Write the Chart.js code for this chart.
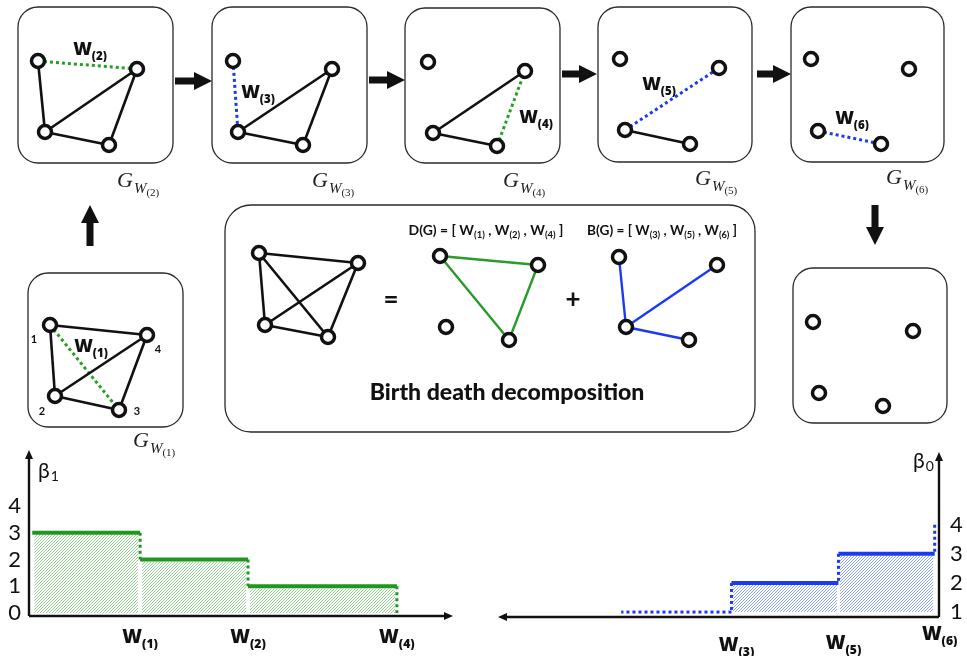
<!DOCTYPE html>
<html>
<head>
<meta charset="utf-8">
<script src="https://cdn.jsdelivr.net/npm/chart.js@4.4.1/dist/chart.umd.min.js"></script>
<style>
html, body { margin: 0; padding: 0; background: #fff; overflow: hidden; }
#wrap { position: relative; width: 967px; height: 656px; }
#wrap canvas { position: absolute; }
</style>
</head>
<body>
<div id="wrap">
  <canvas id="diagram" width="967" height="656" style="left:0;top:0"></canvas>
  <canvas id="beta1" width="470" height="210" style="left:0;top:446px"></canvas>
  <canvas id="beta0" width="477" height="210" style="left:490px;top:446px"></canvas>
</div>
<script>
// graph snapshots: node positions (node order: 1 top-left, 2 bottom-left, 3 bottom-right, 4 top-right)
// edges: [from, to, kind]  k = black, gd/bd = dotted green/blue, g/b = solid green/blue
const nodesG1 = [[50,325],[55,396],[119,410],[147,335]];
const edgesG1 = [[0,3,'k'],[0,1,'k'],[1,3,'k'],[1,2,'k'],[2,3,'k'],[0,2,'gd']];
const nodesG2 = [[38,61],[45,132],[109,145],[137,69]];
const edgesG2 = [[0,3,'gd'],[0,1,'k'],[1,3,'k'],[1,2,'k'],[2,3,'k']];
const nodesG3 = [[233,61],[238,132],[303,145],[332,69]];
const edgesG3 = [[0,1,'bd'],[1,3,'k'],[1,2,'k'],[2,3,'k']];
const nodesG4 = [[428,62],[433,133],[497,146],[525,71]];
const edgesG4 = [[1,3,'k'],[1,2,'k'],[2,3,'gd']];
const nodesG5 = [[620,59],[625,130],[690,144],[719,68]];
const edgesG5 = [[1,3,'bd'],[1,2,'k']];
const nodesG6 = [[811,59],[818,131],[881,144],[909,69]];
const edgesG6 = [[1,2,'bd']];
const nodesEmpty = [[813,322],[819,393],[883,406],[913,331]];
const nodesFull = [[259,253],[265,325],[328,337],[358,263]];
const edgesFull = [[0,1,'k'],[0,2,'k'],[0,3,'k'],[1,2,'k'],[1,3,'k'],[2,3,'k']];
const nodesDeath = [[440,256],[446,327],[509,340],[538,265]];
const edgesDeath = [[0,3,'g'],[0,2,'g'],[2,3,'g']];
const nodesBirth = [[619,257],[626,327],[689,340],[717,265]];
const edgesBirth = [[0,1,'b'],[1,3,'b'],[1,2,'b']];

const edgeSubs = ['(1)','(2)','(3)','(4)','(5)','(6)'];
const deathList = ['(1)','(2)','(4)'];
const birthList = ['(3)','(5)','(6)'];

// step plots
const beta1Times = [0, 1, 2, 3.38];          // start, W(1), W(2), W(4)
const beta1Levels = [3, 2, 1];               // β1 on each interval
const beta1Ticks = [0, 1, 2, 3, 4];
const beta1Names = ['(1)', '(2)', '(4)'];
const beta0Times = [0.04, 0.93, 1.92, 2.94]; // W(6), W(5), W(3), end (axis runs leftwards)
const beta0Levels = [3, 2, 1];               // β0 on each interval
const beta0Top = 4;
const beta0Ticks = [1, 2, 3, 4];
const beta0Names = ['(6)', '(5)', '(3)'];

// layout
const panelBoxes = [[18,7,173,163,20],[212,7,367,163,20],[405,8,560,163,20],[598,7,752,162,20],
  [791,7,944,162,20],[28,273,183,427,20],[225,205,755,432,26],[793,268,947,423,20]];
const flowArrows = [[175,81,212,81],[369,80,405,80],[562,74,597,74],[757,74,791,74],[90,246,90,205],[875,205,875,245]];
const edgeLabelPos = [[91,352],[90,55],[258,98],[536,123],[659,90],[852,124]];
const gLabelPos = [[133,447],[117,187],[312,187],[503,187],[695,185],[886,184]];
const nodeNumbers = [['1',34,343],['2',42,415],['3',137,415],['4',158,353]];

const GREEN = '#1f961f', BLUE = '#1b3af2', INK = '#111';
const W_FONT = '"Open Sans"';
const edgeStyle = {
  k:  {color: INK, width: 2.6, dash: []},
  gd: {color: '#22a022', width: 3, dash: [3, 3]},
  bd: {color: BLUE, width: 3, dash: [3, 3]},
  g:  {color: '#2a9a2a', width: 2.4, dash: []},
  b:  {color: BLUE, width: 2.4, dash: []}
};

function richWidth(ctx, parts, size, subSize, fam, wt) {
  let w = 0;
  parts.forEach(([t, sub]) => { ctx.font = `${wt} ${sub ? subSize : size}px ${fam}`; w += ctx.measureText(t).width; });
  return w;
}
function drawRich(ctx, parts, cx, base, size, subSize, subDy, fam = W_FONT, wt = 800) {
  let x = cx - richWidth(ctx, parts, size, subSize, fam, wt) / 2;
  ctx.textAlign = 'left';
  ctx.textBaseline = 'alphabetic';
  parts.forEach(([t, sub]) => {
    ctx.font = `${wt} ${sub ? subSize : size}px ${fam}`;
    ctx.fillText(t, x, base + (sub ? subDy : 0));
    x += ctx.measureText(t).width;
  });
}
function drawFit(ctx, parts, cx, base, width, ratio, subDy, fam, wt) {
  const s = 20 * width / richWidth(ctx, parts, 20, 20 * ratio, fam, wt);
  drawRich(ctx, parts, cx, base, s, s * ratio, subDy, fam, wt);
}
function drawW(ctx, sub, cx, base, size = 18) {
  drawRich(ctx, [['W', 0], [sub, 1]], cx, base, size, size * 0.64, 5);
}
function drawG(ctx, sub, x, base) {
  ctx.textAlign = 'left';
  ctx.textBaseline = 'alphabetic';
  ctx.fillStyle = '#222';
  ctx.font = 'italic 22px "Liberation Serif"';
  ctx.fillText('G', x, base);
  x += ctx.measureText('G').width + 1;
  ctx.font = 'italic 15px "Liberation Serif"';
  ctx.fillText('W', x, base + 6);
  x += ctx.measureText('W').width;
  ctx.font = '11px "Liberation Serif"';
  ctx.fillText(sub, x, base + 9);
}
function roundBox(ctx, x0, y0, x1, y1, r) {
  ctx.beginPath();
  ctx.moveTo(x0 + r, y0);
  ctx.arcTo(x1, y0, x1, y1, r);
  ctx.arcTo(x1, y1, x0, y1, r);
  ctx.arcTo(x0, y1, x0, y0, r);
  ctx.arcTo(x0, y0, x1, y0, r);
  ctx.closePath();
  ctx.stroke();
}
function blockArrow(ctx, x0, y0, x1, y1) {
  const len = Math.hypot(x1 - x0, y1 - y0), head = 18;
  ctx.save();
  ctx.translate(x0, y0);
  ctx.rotate(Math.atan2(y1 - y0, x1 - x0));
  ctx.beginPath();
  ctx.moveTo(0, -3.5); ctx.lineTo(len - head, -3.5); ctx.lineTo(len - head, -9);
  ctx.lineTo(len, 0);
  ctx.lineTo(len - head, 9); ctx.lineTo(len - head, 3.5); ctx.lineTo(0, 3.5);
  ctx.closePath();
  ctx.fill();
  ctx.restore();
}

// ---------- diagram ----------
const graphs = [[nodesG1, edgesG1], [nodesG2, edgesG2], [nodesG3, edgesG3], [nodesG4, edgesG4],
  [nodesG5, edgesG5], [nodesG6, edgesG6], [nodesEmpty, []],
  [nodesFull, edgesFull], [nodesDeath, edgesDeath], [nodesBirth, edgesBirth]];

const diagramSets = [];
graphs.forEach(([nodes, edges]) => {
  edges.forEach(([a, b, kind]) => {
    const s = edgeStyle[kind];
    diagramSets.push({
      data: [{x: nodes[a][0], y: nodes[a][1]}, {x: nodes[b][0], y: nodes[b][1]}],
      showLine: true, borderColor: s.color, borderWidth: s.width, borderDash: s.dash,
      pointRadius: 0, order: 1
    });
  });
});
diagramSets.push({
  data: graphs.flatMap(g => g[0].map(p => ({x: p[0], y: p[1]}))),
  pointRadius: 6.5, pointBorderWidth: 3.5, pointBorderColor: INK, pointBackgroundColor: '#fff', order: 0
});

const diagramPlugin = {
  id: 'diagramDecor',
  beforeDatasetsDraw(chart) {
    const {ctx, scales: {x, y}} = chart;
    ctx.save();
    ctx.strokeStyle = '#2a2a2a';
    ctx.lineWidth = 1.3;
    panelBoxes.forEach(([x0, y0, x1, y1, r]) => {
      roundBox(ctx, x.getPixelForValue(x0), y.getPixelForValue(y0), x.getPixelForValue(x1), y.getPixelForValue(y1), r);
    });
    ctx.restore();
  },
  afterDatasetsDraw(chart) {
    const {ctx, scales: {x, y}} = chart;
    ctx.save();
    ctx.fillStyle = INK;
    flowArrows.forEach(([x0, y0, x1, y1]) => {
      blockArrow(ctx, x.getPixelForValue(x0), y.getPixelForValue(y0), x.getPixelForValue(x1), y.getPixelForValue(y1));
    });
    edgeSubs.forEach((s, i) => drawW(ctx, s, x.getPixelForValue(edgeLabelPos[i][0]), y.getPixelForValue(edgeLabelPos[i][1])));
    ctx.font = 'bold 11px Lato';
    ctx.textAlign = 'center';
    nodeNumbers.forEach(([t, px, py]) => ctx.fillText(t, x.getPixelForValue(px), y.getPixelForValue(py)));
    ctx.font = 'bold 26px Lato';
    ctx.textBaseline = 'middle';
    ctx.fillText('=', x.getPixelForValue(391), y.getPixelForValue(300));
    ctx.fillText('+', x.getPixelForValue(573), y.getPixelForValue(300));
    const listParts = (head, subs) => [[head + ' = [ W', 0], [subs[0], 1], [' , W', 0], [subs[1], 1], [' , W', 0], [subs[2], 1], [' ]', 0]];
    drawFit(ctx, listParts('D(G)', deathList), x.getPixelForValue(486), y.getPixelForValue(235), 155, 0.68, 3, 'Lato', 'bold');
    drawFit(ctx, listParts('B(G)', birthList), x.getPixelForValue(662), y.getPixelForValue(235), 150, 0.68, 3, 'Lato', 'bold');
    drawFit(ctx, [['Birth death decomposition', 0]], x.getPixelForValue(507), y.getPixelForValue(400), 275, 1, 0, 'Lato', 900);
    edgeSubs.forEach((s, i) => drawG(ctx, s, x.getPixelForValue(gLabelPos[i][0]), y.getPixelForValue(gLabelPos[i][1])));
    ctx.restore();
  }
};

new Chart(document.getElementById('diagram'), {
  type: 'scatter',
  data: {datasets: diagramSets},
  options: {
    responsive: false, animation: false, events: [], devicePixelRatio: 1,
    layout: {padding: 0, autoPadding: false},
    plugins: {legend: {display: false}, tooltip: {enabled: false}},
    scales: {
      x: {type: 'linear', min: 0, max: 967, display: false},
      y: {type: 'linear', min: 0, max: 656, reverse: true, display: false}
    }
  },
  plugins: [diagramPlugin]
});

// ---------- step plots ----------
function hatch(color) {
  const c = document.createElement('canvas');
  c.width = c.height = 3;
  const g = c.getContext('2d');
  g.strokeStyle = color;
  g.lineWidth = 1;
  g.beginPath();
  g.moveTo(0, 3); g.lineTo(3, 0);
  g.moveTo(-1, 1); g.lineTo(1, -1);
  g.moveTo(2, 4); g.lineTo(4, 2);
  g.stroke();
  return g.createPattern(c, 'repeat');
}
function seg(x0, y0, x1, y1, color, width, dash) {
  return {data: [{x: x0, y: y0}, {x: x1, y: y1}], borderColor: color, borderWidth: width, borderDash: dash,
    pointRadius: 0, fill: false, order: 1};
}
// hatched area under one step; inset keeps a thin white margin under the line
function block(x0, x1, level, base, pattern, dx, dy) {
  return {data: [{x: x0 + dx, y: level - dy}, {x: x1 - dx, y: level - dy}], borderColor: 'rgba(0,0,0,0)', borderWidth: 1,
    pointRadius: 0, fill: {value: base}, backgroundColor: pattern, order: 2};
}

function axesPlugin(side, betaSub, betaX, betaY, names, times, labelY, labelDx) {
  return {
    id: 'stepAxes',
    afterDatasetsDraw(chart) {
      const {ctx, chartArea: a, scales: {x}} = chart;
      const ax = side === 'left' ? a.left : a.right;
      const far = side === 'left' ? a.right : a.left;
      const dir = side === 'left' ? 1 : -1;
      ctx.save();
      ctx.strokeStyle = INK; ctx.fillStyle = INK; ctx.lineWidth = 2.4;
      ctx.beginPath();
      ctx.moveTo(ax, a.bottom); ctx.lineTo(ax, a.top + 6);
      ctx.moveTo(ax, a.bottom); ctx.lineTo(far - dir * 6, a.bottom);
      ctx.stroke();
      ctx.beginPath();
      ctx.moveTo(ax, a.top); ctx.lineTo(ax - 4, a.top + 9); ctx.lineTo(ax + 4, a.top + 9); ctx.closePath();
      ctx.moveTo(far, a.bottom); ctx.lineTo(far - dir * 9, a.bottom - 4); ctx.lineTo(far - dir * 9, a.bottom + 4); ctx.closePath();
      ctx.fill();
      ctx.textAlign = 'left'; ctx.textBaseline = 'alphabetic';
      ctx.font = '21px Lato';
      ctx.fillText('β', betaX, betaY);
      const bw = ctx.measureText('β').width;
      ctx.font = '14px Lato';
      ctx.fillText(betaSub, betaX + bw + 1, betaY + 3);
      names.forEach((n, i) => drawW(ctx, n, x.getPixelForValue(times[i]) + labelDx, labelY[i], 19));
      ctx.restore();
    }
  };
}

function stepOptions(xMin, xMax, reverse, yMin, yMax, ticks, side, padding, axisWidth, tickPad) {
  return {
    responsive: false, animation: false, events: [], devicePixelRatio: 1,
    layout: {padding: padding, autoPadding: false},
    plugins: {legend: {display: false}, tooltip: {enabled: false}},
    scales: {
      x: {type: 'linear', display: false, min: xMin, max: xMax, reverse: reverse},
      y: {type: 'linear', position: side, min: yMin, max: yMax,
        grid: {display: false, drawTicks: false}, border: {display: false},
        ticks: {font: {size: 22, family: 'Lato'}, color: INK, padding: tickPad},
        afterBuildTicks: s => { s.ticks = ticks.map(v => ({value: v})); },
        afterFit: s => { s.width = axisWidth; s.paddingTop = 0; s.paddingBottom = 0; }}
    }
  };
}

// β1: dies going right
const greenHatch = hatch('rgba(45,165,45,0.5)');
const beta1Sets = [];
beta1Levels.forEach((lv, i) => {
  const t0 = beta1Times[i], t1 = beta1Times[i + 1];
  beta1Sets.push(block(t0, t1, lv, 0, greenHatch, 0.018, 0.08));
  beta1Sets.push(seg(t0, lv, t1, lv, GREEN, 4, []));
  const next = i + 1 < beta1Levels.length ? beta1Levels[i + 1] : 0;
  beta1Sets.push(seg(t1, lv, t1, next, GREEN, 3, [3, 3]));
});
new Chart(document.getElementById('beta1'), {
  type: 'line',
  data: {datasets: beta1Sets},
  options: stepOptions(-0.03, 3.9, false, -0.11, 6.1, beta1Ticks, 'left',
    {left: 0, right: 17, top: 4, bottom: 40}, 29, 8),
  plugins: [axesPlugin('left', '1', 38, 32, beta1Names, beta1Times.slice(1), [197, 197, 197], 0)]
});

// β0: born going left from the axis
const blueHatch = hatch('rgba(45,80,240,0.52)');
const beta0Base = beta0Levels[beta0Levels.length - 1];
const beta0Sets = [];
beta0Levels.forEach((lv, i) => {
  const t0 = beta0Times[i], t1 = beta0Times[i + 1];
  if (lv > beta0Base) {
    beta0Sets.push(block(t0, t1, lv, beta0Base, blueHatch, 0.012, 0.07));
    beta0Sets.push(seg(t0, lv, t1, lv, BLUE, 4, []));
  } else {
    beta0Sets.push(seg(t0, lv, t1, lv, BLUE, 3, [3, 3]));
  }
  const prev = i === 0 ? beta0Top : beta0Levels[i - 1];
  beta0Sets.push(seg(t0, prev, t0, lv, BLUE, 3, [3, 3]));
});
new Chart(document.getElementById('beta0'), {
  type: 'line',
  data: {datasets: beta0Sets},
  options: stepOptions(0, 4.08, true, 0.83, 6.5, beta0Ticks, 'right',
    {left: 8, right: 0, top: 6, bottom: 39}, 28, 11),
  plugins: [axesPlugin('right', '0', 423, 22, beta0Names, beta0Times.slice(0, 3), [194, 203, 205], 5)]
});
</script>
</body>
</html>
